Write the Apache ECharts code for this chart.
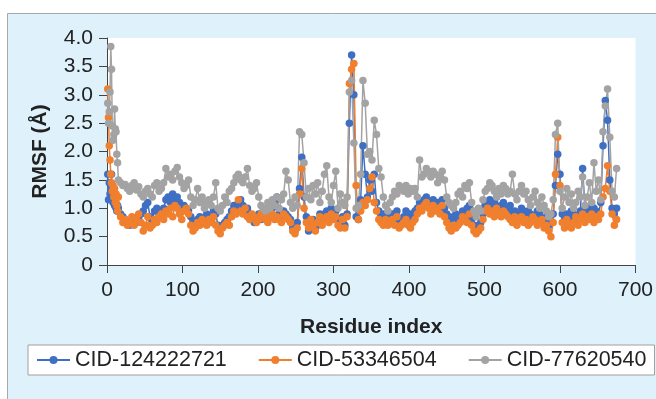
<!DOCTYPE html>
<html>
<head>
<meta charset="utf-8">
<script src="https://cdn.jsdelivr.net/npm/echarts@6/dist/echarts.min.js"></script>
<style>
html,body{margin:0;padding:0;background:#fff;}
#chart{width:656px;height:399px;}
</style>
</head>
<body>
<div id="chart"></div>
<script>
var seriesNames = ['CID-124222721', 'CID-53346504', 'CID-77620540'];
var yTickLabels = ['0', '0.5', '1.0', '1.5', '2.0', '2.5', '3.0', '3.5', '4.0'];
var xTickLabels = ['0', '100', '200', '300', '400', '500', '600', '700'];

var residues = [1,2,3,4,5,6,7,8,9,10,11,12,13,14,
15,18,21,24,27,30,33,36,39,42,
45,48,51,54,57,60,63,66,69,72,
75,78,81,84,87,90,93,96,99,102,
105,108,111,114,117,120,123,126,129,132,
135,138,141,144,147,150,153,156,159,162,
165,168,171,174,177,180,183,186,189,192,
195,198,201,204,207,210,213,216,219,222,
225,228,231,234,237,240,243,246,249,252,
255,258,261,264,267,270,273,276,279,282,
285,288,291,294,297,300,303,306,309,312,
315,318,321,324,327,330,333,336,339,342,
345,348,351,354,357,360,363,366,369,372,
375,378,381,384,387,390,393,396,399,402,
405,408,411,414,417,420,423,426,429,432,
435,438,441,444,447,450,453,456,459,462,
465,468,471,474,477,480,483,486,489,492,
495,498,501,504,507,510,513,516,519,522,
525,528,531,534,537,540,543,546,549,552,
555,558,561,564,567,570,573,576,579,582,
585,588,591,594,597,600,603,606,609,612,
615,618,621,624,627,630,633,636,639,642,
645,648,651,654,657,660,663,666,669,672,
675];

var rmsfBlue = [1.6,1.15,1.45,1.25,1.35,1.6,1.25,1.1,1.2,1.05,1.15,1.0,0.95,1.05,
1.0,0.9,0.85,0.8,0.75,0.7,0.78,0.82,0.75,0.85,
0.9,0.95,1.05,1.1,0.85,0.8,0.95,1.0,0.9,0.85,
1.0,1.15,1.2,1.1,1.25,1.15,1.2,1.1,0.95,1.05,
1.0,0.95,0.85,0.75,0.7,0.8,0.85,0.75,0.8,0.9,
0.85,0.8,0.95,0.9,0.7,0.65,0.7,0.75,0.8,0.85,
0.95,1.05,1.0,1.1,1.15,1.05,0.95,1.0,0.9,0.85,
0.75,0.85,0.9,0.8,0.95,0.85,0.9,0.95,1.0,1.1,
1.2,0.9,0.85,0.95,0.9,0.85,0.8,0.65,0.6,0.75,
1.35,1.9,1.2,0.85,0.6,0.7,0.8,0.65,0.7,0.9,
0.8,0.9,0.95,0.85,1.0,0.9,0.95,0.8,0.75,0.85,
0.7,0.9,2.5,3.7,3.0,0.85,0.8,1.15,2.1,1.6,
1.2,1.5,1.3,1.6,1.1,0.95,0.85,0.9,0.8,0.75,
0.85,0.9,0.8,0.95,0.75,0.8,0.85,0.95,0.8,0.9,
0.85,0.95,1.0,1.1,1.05,1.15,1.2,1.1,1.05,1.15,
1.0,1.1,1.05,1.15,1.0,0.9,0.85,0.8,0.85,0.9,
0.8,0.85,0.95,0.9,1.0,1.05,0.8,0.7,0.65,0.7,
0.75,0.9,1.05,1.1,1.15,1.05,1.1,1.2,1.0,1.05,
1.1,1.0,0.95,1.05,0.9,0.95,0.85,0.9,1.0,0.95,
0.85,0.95,0.9,0.8,0.85,0.95,0.9,0.8,0.75,0.85,
0.7,0.75,0.9,1.4,1.95,1.6,0.9,0.85,0.9,0.8,
0.95,0.9,0.8,0.85,0.95,1.7,1.0,0.9,0.95,1.05,
1.0,0.95,0.9,1.1,2.1,2.9,2.55,1.5,1.0,0.9,
1.0];

var rmsfOrange = [3.1,2.6,2.1,1.85,1.6,1.45,1.3,1.4,1.2,1.35,1.1,1.25,1.05,0.95,
1.2,0.85,0.75,0.8,0.7,0.75,0.85,0.7,0.8,0.9,
0.75,0.6,0.7,0.85,0.65,0.7,0.8,0.75,0.85,0.9,
0.8,0.95,0.9,1.0,0.85,1.05,1.0,0.9,0.8,0.95,
1.0,0.9,0.7,0.6,0.65,0.75,0.7,0.8,0.75,0.7,
0.8,0.75,0.85,0.7,0.6,0.55,0.65,0.7,0.75,0.7,
0.85,0.95,0.9,1.15,0.95,0.9,1.0,0.85,0.8,0.9,
0.85,0.75,0.8,0.9,0.85,0.8,0.75,0.85,0.9,0.8,
0.85,0.8,0.75,0.9,0.85,0.8,0.75,0.6,0.55,0.65,
1.25,1.7,1.0,0.75,0.65,0.8,0.7,0.6,0.75,0.85,
0.7,0.8,0.85,0.75,0.9,0.8,0.85,0.7,0.65,0.8,
0.65,0.85,3.2,3.45,3.55,1.4,0.8,0.95,1.1,1.05,
1.15,1.35,1.55,1.1,0.95,0.8,0.75,0.7,0.8,0.7,
0.75,0.8,0.7,0.85,0.65,0.7,0.75,0.8,0.7,0.65,
0.75,0.8,0.9,1.0,0.95,1.05,1.1,1.0,0.9,1.05,
0.95,1.0,0.9,1.05,0.85,0.75,0.65,0.6,0.7,0.65,
0.7,0.75,0.85,0.8,0.75,0.9,0.7,0.6,0.55,0.6,
0.65,0.8,0.95,1.0,0.9,0.95,0.85,1.0,0.9,0.85,
0.95,0.9,0.85,0.8,0.75,0.85,0.7,0.8,0.85,0.75,
0.8,0.7,0.75,0.85,0.8,0.7,0.75,0.8,0.65,0.7,
0.6,0.5,0.75,1.6,2.25,1.4,0.75,0.65,0.8,0.7,
0.65,0.75,0.85,0.7,0.8,0.9,0.75,0.85,0.8,0.9,
0.75,0.85,0.8,0.9,1.2,1.35,1.75,1.3,0.9,0.7,
0.8];

var rmsfGray = [2.85,2.5,2.7,3.05,3.85,3.45,2.45,2.2,2.3,2.75,2.4,2.35,1.95,1.8,
1.5,1.45,1.4,1.42,1.35,1.3,1.4,1.45,1.32,1.38,
1.25,1.2,1.3,1.35,1.25,1.2,1.4,1.45,1.3,1.35,
1.45,1.7,1.55,1.6,1.5,1.65,1.72,1.55,1.45,1.35,
1.4,1.5,1.2,1.05,1.15,1.35,1.1,1.2,1.0,1.1,
1.15,1.05,1.2,1.45,1.0,0.95,1.05,1.2,1.1,1.3,
1.35,1.45,1.55,1.6,1.5,1.45,1.55,1.7,1.4,1.3,
1.35,1.45,1.2,1.05,1.0,0.95,1.1,1.0,1.15,1.05,
1.2,1.0,1.15,1.25,1.65,1.5,1.1,1.0,1.2,1.05,
2.35,2.3,1.8,1.2,1.35,1.15,1.4,1.25,1.45,1.1,
1.3,1.6,1.75,1.2,1.1,1.4,1.65,1.0,1.25,1.1,
1.05,1.2,3.05,3.25,2.15,1.0,1.05,1.6,3.25,2.85,
1.95,2.0,1.85,2.55,2.3,1.7,1.55,1.2,1.05,0.95,
1.1,1.2,1.3,1.25,1.4,1.35,1.3,1.4,1.25,1.35,
1.3,1.35,1.2,1.85,1.55,1.6,1.7,1.65,1.55,1.65,
1.6,1.45,1.55,1.65,1.5,1.2,1.1,1.05,1.0,1.1,
1.25,1.3,1.2,1.4,1.35,1.45,1.1,0.95,0.85,1.0,
0.95,1.15,1.3,1.35,1.45,1.4,1.3,1.2,1.35,1.25,
1.4,1.35,1.25,1.3,1.6,1.25,1.15,1.3,1.4,1.25,
1.3,1.15,1.05,1.2,1.3,1.1,1.0,1.2,1.05,0.95,
0.85,0.9,1.15,2.3,2.5,1.3,1.0,1.2,1.35,1.1,
1.25,1.0,1.1,1.3,1.2,1.55,1.05,1.2,1.45,1.1,
1.8,1.3,1.5,1.15,2.35,2.8,3.1,2.25,1.3,1.2,
1.7];

var colors = ['#3f6fc2', '#f07f2e', '#a3a3a3'];

function pairs(vals) {
  return residues.map(function (r, i) { return [r, vals[i]]; });
}

var chart = echarts.init(document.getElementById('chart'), null, {renderer: 'canvas'});
var fontFam = '"Liberation Sans", Arial, sans-serif';

function mkSeries(name, vals, color) {
  return {
    name: name,
    type: 'line',
    data: pairs(vals),
    symbol: 'circle',
    symbolSize: 7.5,
    showSymbol: true,
    showAllSymbol: true,
    lineStyle: {width: 1.5, color: color},
    itemStyle: {color: color},
    emphasis: {disabled: true}
  };
}

chart.setOption({
  backgroundColor: '#ffffff',
  animation: false,
  graphic: [{
    type: 'rect',
    z: -10,
    shape: {x: 7.5, y: 13.5, width: 700, height: 420},
    style: {fill: '#dff1fa', stroke: '#a8a8a8', lineWidth: 1}
  }],
  grid: {
    left: 107, right: 19, top: 38, bottom: 134,
    show: true, backgroundColor: '#ffffff', borderWidth: 0
  },
  legend: {
    data: seriesNames,
    left: 28, top: 345,
    backgroundColor: '#ffffff',
    borderColor: '#a0a0a0', borderWidth: 1,
    padding: [4, 8, 4, 8],
    itemWidth: 33, itemHeight: 10, itemGap: 31,
    textStyle: {fontSize: 21.5, color: '#222', fontFamily: fontFam}
  },
  xAxis: {
    type: 'value', min: 0, max: 700, interval: 100,
    name: 'Residue index', nameLocation: 'middle', nameGap: 52,
    nameTextStyle: {fontSize: 21, fontWeight: 'bold', color: '#222', fontFamily: fontFam},
    axisLine: {show: true, lineStyle: {color: '#444', width: 1}},
    axisTick: {show: true, length: 8, lineStyle: {color: '#444'}},
    splitLine: {show: false},
    axisLabel: {
      fontSize: 21, color: '#222', margin: 15, fontFamily: fontFam,
      formatter: function (v) { return xTickLabels[Math.round(v / 100)]; }
    }
  },
  yAxis: {
    type: 'value', min: 0, max: 4, interval: 0.5,
    name: 'RMSF (Å)', nameLocation: 'middle', nameGap: 56,
    nameTextStyle: {fontSize: 21, fontWeight: 'bold', color: '#222', fontFamily: fontFam},
    axisLine: {show: true, lineStyle: {color: '#444', width: 1}},
    axisTick: {show: true, length: 8, lineStyle: {color: '#444'}},
    splitLine: {show: false},
    axisLabel: {
      fontSize: 21, color: '#222', margin: 14, fontFamily: fontFam,
      formatter: function (v) { return yTickLabels[Math.round(v / 0.5)]; }
    }
  },
  series: [
    mkSeries(seriesNames[0], rmsfBlue, colors[0]),
    mkSeries(seriesNames[1], rmsfOrange, colors[1]),
    mkSeries(seriesNames[2], rmsfGray, colors[2])
  ]
});
</script>
</body>
</html>
